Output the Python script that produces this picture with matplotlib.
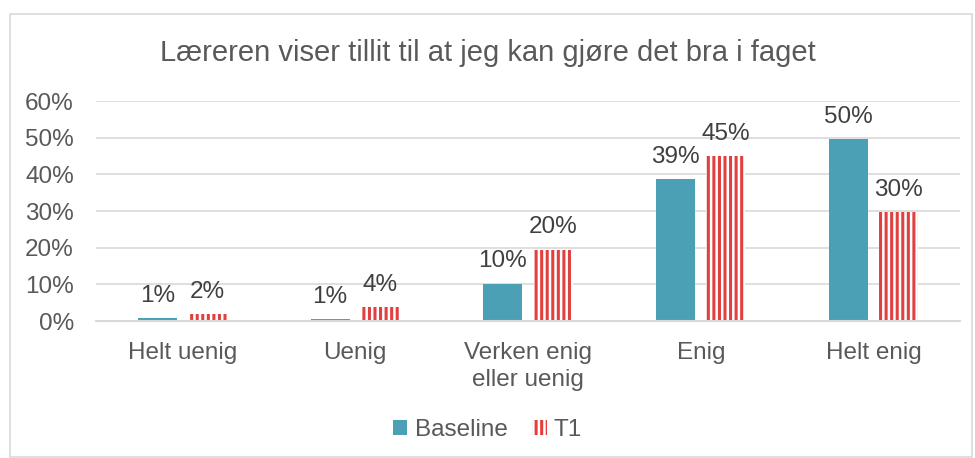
import matplotlib
matplotlib.use("Agg")
import matplotlib.pyplot as plt
import numpy as np
from matplotlib.patches import Rectangle, Patch

plt.rcParams['font.family'] = ['Liberation Sans', 'DejaVu Sans']
plt.rcParams['hatch.linewidth'] = 2.2

categories = ["Helt uenig", "Uenig", "Verken enig\neller uenig", "Enig", "Helt enig"]
baseline = [0.9, 0.6, 10.2, 38.8, 49.6]
t1 = [2.0, 3.8, 19.5, 45.0, 29.7]
yticks = [0, 10, 20, 30, 40, 50, 60]
title = "Læreren viser tillit til at jeg kan gjøre det bra i faget"

teal = "#4BA0B6"
red = "#E0403F"
txt = "#595959"
fs = 17.5

fig = plt.figure(figsize=(9.75, 4.58), dpi=100)
fig.patches.append(Rectangle((10/975, 1/458), 962/975, 443/458, transform=fig.transFigure,
                             fill=False, edgecolor="#D9D9D9", linewidth=1.2))
ax = fig.add_axes([96/975, (458-321)/458, 864/975, 220/458])

x = np.arange(len(categories))
w = 0.226
off = 0.145
b1 = ax.bar(x - off, baseline, w, color=teal, linewidth=0)
b2 = ax.bar(x + off, t1, w, color="white", edgecolor=red, hatch="|||", linewidth=0)

for rect, v in zip(b1, baseline):
    ax.annotate(f"{round(v + 1e-9):.0f}%", (rect.get_x() + rect.get_width()/2, v),
                xytext=(0, 8), textcoords="offset points", ha="center", va="bottom",
                fontsize=fs, color="#404040")
for rect, v in zip(b2, t1):
    ax.annotate(f"{round(v):.0f}%", (rect.get_x() + rect.get_width()/2, v),
                xytext=(0, 8), textcoords="offset points", ha="center", va="bottom",
                fontsize=fs, color="#404040")

ax.set_xlim(-0.5, len(categories) - 0.5)
ax.set_ylim(0, 60)
ax.set_yticks(yticks)
ax.set_yticklabels([f"{v}%" for v in yticks])
ax.set_xticks(x)
ax.set_xticklabels(categories, linespacing=1.3)
ax.tick_params(axis='both', length=0, labelsize=fs, colors=txt)
ax.tick_params(axis='y', pad=16)
ax.tick_params(axis='x', pad=15)
ax.grid(axis='y', color="#D9D9D9", linewidth=1.2)
ax.set_axisbelow(True)
for s in ["top", "right", "left"]:
    ax.spines[s].set_visible(False)
ax.spines["bottom"].set_color("#D9D9D9")
ax.spines["bottom"].set_linewidth(1.5)

fig.text(0.5, (458-53)/458, title, ha="center", va="center", fontsize=21, color=txt)

handles = [Patch(facecolor=teal, linewidth=0),
           Patch(facecolor="white", edgecolor=red, hatch="|||", linewidth=0)]
fig.legend(handles, ["Baseline", "T1"], loc="center", bbox_to_anchor=(0.5, (458-430)/458),
           ncol=2, frameon=False, fontsize=fs, labelcolor=txt, handlelength=0.6,
           handleheight=0.6, handletextpad=0.3, columnspacing=1.0)

fig.savefig("out.png", dpi=100)
